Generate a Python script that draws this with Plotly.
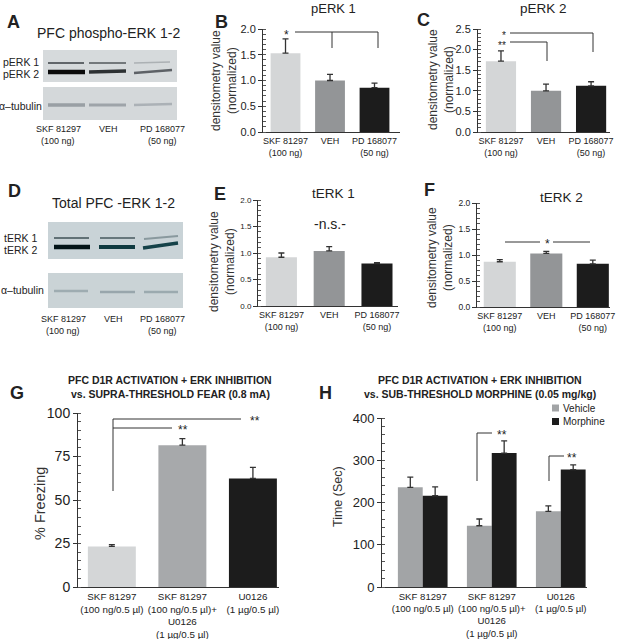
import plotly.graph_objects as go

W, H = 618, 639
FONT = "Liberation Sans, Arial, sans-serif"

# ---------------- data ----------------
lanes3 = ["SKF 81297<br>(100 ng)", "VEH", "PD 168077<br>(50 ng)"]
bar_colors3 = ["#d4d6d7", "#939597", "#1c1c1c"]

perk1_vals = [1.53, 1.00, 0.86]
perk1_err = [0.28, 0.12, 0.09]
perk2_vals = [1.72, 1.00, 1.12]
perk2_err = [0.25, 0.16, 0.10]
terk1_vals = [0.92, 1.04, 0.80]
terk1_err = [0.08, 0.08, 0.02]
terk2_vals = [0.87, 1.03, 0.83]
terk2_err = [0.04, 0.04, 0.07]

fear_labels = ["SKF 81297<br>(100 ng/0.5 µl)",
               "SKF 81297<br>(100 ng/0.5 µl)+<br>U0126<br>(1 µg/0.5 µl)",
               "U0126<br>(1 µg/0.5 µl)"]
fear_colors = ["#d4d6d7", "#a7a9ab", "#1c1c1c"]
fear_vals = [23.3, 81.5, 62.4]
fear_err = [1.0, 3.8, 6.3]

morph_labels = fear_labels
series_names = ["Vehicle", "Morphine"]
series_colors = ["#a2a4a6", "#1c1c1c"]
vehicle_vals = [236, 145, 179]
vehicle_err = [24, 16, 13]
morphine_vals = [216, 317, 278]
morphine_err = [21, 29, 11]


def X(px):
    return px / W


def Y(py):
    return 1 - py / H


fig = go.Figure()
shapes = []
ann = []


def add_axis(n, xd, yd, xr, yr, ytv, ytt, minor_dt, tickfs, xtfs):
    xa = "xaxis" if n == 1 else f"xaxis{n}"
    ya = "yaxis" if n == 1 else f"yaxis{n}"
    fig.layout[xa] = dict(domain=[X(xd[0]), X(xd[1])], range=xr, anchor=f"y{'' if n == 1 else n}",
                          showline=True, linecolor="#333", linewidth=1, ticks="",
                          tickvals=[0, 1, 2], showgrid=False, zeroline=False, automargin=False,
                          tickangle=0, fixedrange=True,
                          tickfont=dict(family=FONT, size=xtfs, color="#222"))
    fig.layout[ya] = dict(domain=[Y(yd[1]), Y(yd[0])], range=yr, anchor=f"x{'' if n == 1 else n}",
                          showline=True, linecolor="#333", linewidth=1, ticks="outside",
                          ticklen=4, tickcolor="#333", tickvals=ytv, ticktext=ytt,
                          minor=dict(ticks="inside", ticklen=2.5, tickcolor="#555", dtick=minor_dt),
                          showgrid=False, zeroline=False, automargin=False, fixedrange=True,
                          tickfont=dict(family=FONT, size=tickfs, color="#222"))


def add_bars(n, labels, vals, errs, colors, width):
    fig.add_trace(go.Bar(
        x=[0, 1, 2], y=vals, width=width, marker=dict(color=colors, line=dict(width=0)),
        error_y=dict(type="data", array=errs, arrayminus=[0, 0, 0], symmetric=False,
                     color="#333", thickness=1.3, width=3),
        xaxis=f"x{'' if n == 1 else n}", yaxis=f"y{'' if n == 1 else n}", showlegend=False,
        hoverinfo="skip"))
    xa = "xaxis" if n == 1 else f"xaxis{n}"
    fig.layout[xa].ticktext = labels


# B
add_axis(1, (263, 400), (29, 132), [-0.506, 2.573], [0, 2.0],
         [0, 0.5, 1, 1.5, 2], ["0.0", "0.5", "1.0", "1.5", "2.0"], 0.1, 11, 9)
add_bars(1, lanes3, perk1_vals, perk1_err, bar_colors3, 0.67)
# C
add_axis(2, (478, 610), (29, 132), [-0.51, 2.42], [0, 2.5],
         [0, 0.5, 1, 1.5, 2, 2.5], ["0.0", "0.5", "1.0", "1.5", "2.0", "2.5"], 0.1, 11, 9)
add_bars(2, lanes3, perk2_vals, perk2_err, bar_colors3, 0.67)
# E
add_axis(3, (258, 398), (200, 306), [-0.49, 2.44], [0, 2.0],
         [0, 0.5, 1, 1.5, 2], ["0.0", "0.5", "1.0", "1.5", "2.0"], 0.1, 8, 9)
add_bars(3, lanes3, terk1_vals, terk1_err, bar_colors3, 0.65)
# F
add_axis(4, (477, 610), (203, 307), [-0.49, 2.37], [0, 2.0],
         [0, 0.5, 1, 1.5, 2], ["0.0", "0.5", "1.0", "1.5", "2.0"], 0.1, 8.5, 9)
add_bars(4, lanes3, terk2_vals, terk2_err, bar_colors3, 0.69)
# G
add_axis(5, (78, 279), (413, 587), [-0.48, 2.37], [0, 100],
         [0, 25, 50, 75, 100], ["0", "25", "50", "75", "100"], 5, 14, 9.8)
add_bars(5, fear_labels, fear_vals, fear_err, fear_colors, 0.68)
# H
add_axis(6, (382, 587), (418, 587), [-0.59, 2.38], [0, 400],
         [0, 100, 200, 300, 400], ["0", "100", "200", "300", "400"], 20, 13, 9.6)
fig.layout.xaxis6.ticktext = morph_labels
for name, vals, errs, col, off in [(series_names[0], vehicle_vals, vehicle_err, series_colors[0], -0.36),
                                   (series_names[1], morphine_vals, morphine_err, series_colors[1], 0)]:
    fig.add_trace(go.Bar(x=[0, 1, 2], y=vals, name=name, width=0.36, offset=off,
                         marker=dict(color=col, line=dict(width=0)),
                         error_y=dict(type="data", array=errs, arrayminus=[0, 0, 0], symmetric=False,
                                      color="#333", thickness=1.3, width=3),
                         xaxis="x6", yaxis="y6", hoverinfo="skip", showlegend=False))


def line(x0, y0, x1, y1, color="#333", w=1):
    shapes.append(dict(type="line", xref="paper", yref="paper", x0=X(x0), y0=Y(y0), x1=X(x1), y1=Y(y1),
                       line=dict(color=color, width=w)))


def rect(x0, y0, x1, y1, fill, layer="below"):
    shapes.append(dict(type="rect", xref="paper", yref="paper", x0=X(x0), y0=Y(y0), x1=X(x1), y1=Y(y1),
                       fillcolor=fill, line=dict(width=0), layer=layer))


def text(x, y, s, size=11, bold=False, xanchor="center", color="#222", yanchor="middle", angle=0):
    ann.append(dict(xref="paper", yref="paper", x=X(x), y=Y(y), text=("<b>%s</b>" % s) if bold else s,
                    showarrow=False, xanchor=xanchor, yanchor=yanchor, borderpad=0, textangle=angle,
                    font=dict(family=FONT, size=size, color=color)))


def band(x0, x1, y0, y1, color, w, op=1.0):
    shapes.append(dict(type="line", xref="paper", yref="paper", x0=X(x0), y0=Y(y0), x1=X(x1), y1=Y(y1),
                       line=dict(color=color, width=w), opacity=op))


# ---------- y-axis titles ----------
dens_title = "densitometry value<br>(normalized)"
text(224, 81, dens_title, size=12, color="#333", angle=-90)
text(441, 80, dens_title, size=12, color="#333", angle=-90)
text(222, 262, dens_title, size=12, color="#333", angle=-90)
text(440, 258, dens_title, size=12, color="#333", angle=-90)
text(40, 504, "% Freezing", size=14.5, color="#333", angle=-90)
text(338, 497, "Time (Sec)", size=12.5, color="#333", angle=-90)

# ---------- Panel letters and titles ----------
for (lx, ly, L) in [(13, 22, "A"), (221, 22, "B"), (423, 20, "C"), (14, 191, "D"), (220, 194, "E"),
                    (430, 190, "F"), (17, 393, "G"), (325, 393, "H")]:
    text(lx, ly, L, size=18, bold=True)

text(108, 33, "PFC phospho-ERK 1-2", size=14)
text(333, 9, "pERK 1", size=13)
text(543, 9, "pERK 2", size=13.5)
text(113, 203, "Total PFC -ERK 1-2", size=14)
text(333, 194, "tERK 1", size=13.5)
text(561, 197, "tERK 2", size=13.5)
text(170, 380, "PFC D1R ACTIVATION + ERK INHIBITION", size=10.5, bold=True)
text(170, 394, "vs. SUPRA-THRESHOLD FEAR (0.8 mA)", size=10.5, bold=True)
text(480, 380, "PFC D1R ACTIVATION + ERK INHIBITION", size=10.5, bold=True)
text(480, 394, "vs. SUB-THRESHOLD MORPHINE (0.05 mg/kg)", size=10.5, bold=True)

# ---------- Blot A ----------
rect(43, 50, 177, 82, "#d6dadc")
rect(43, 87, 177, 120, "#d4d8da")
band(48, 84, 63, 63, "#555a5e", 2.2, 0.9)
band(89, 126, 63, 63, "#62676b", 2.0, 0.85)
band(134, 170, 63, 62, "#a2a7ab", 1.5, 0.8)
band(48, 85, 72, 72, "#0b0b0b", 4.5, 1)
band(89, 126, 72, 71, "#25282a", 3.5, 0.95)
band(134, 172, 73, 70, "#50555a", 2.5, 0.9)
band(48, 85, 105, 105, "#8f969b", 3.5, 0.85)
band(89, 126, 105, 105, "#959ca1", 3.0, 0.85)
band(134, 172, 105, 104, "#a5abb0", 2.5, 0.85)
text(40, 62, "pERK 1", size=10.5, xanchor="right")
text(40, 74, "pERK 2", size=10.5, xanchor="right")
text(43, 106, "α–tubulin", size=10.5, xanchor="right")
text(58, 129, "SKF 81297", size=9)
text(58, 141, "(100 ng)", size=9)
text(108, 129, "VEH", size=9)
text(162, 129, "PD 168077", size=9)
text(162, 141, "(50 ng)", size=9)

# ---------- Blot D ----------
rect(48, 222, 183, 259, "#c9d3d7")
rect(48, 273, 183, 308, "#cad3d6")
band(54, 89, 238, 238, "#4f6066", 2.2, 0.85)
band(100, 135, 238, 238, "#56676d", 2.2, 0.85)
band(144, 178, 239, 236, "#7a8b91", 1.8, 0.8)
band(54, 90, 247, 247, "#031418", 4.5, 1)
band(99, 135, 247, 247, "#0f3a40", 4.0, 1)
band(143, 178, 248, 243, "#154249", 3.5, 1)
band(54, 88, 291, 291, "#9aa8ad", 2.5, 0.9)
band(100, 135, 292, 292, "#93a2a8", 2.5, 0.9)
band(144, 178, 292, 292, "#97a6ab", 2.5, 0.9)
text(38, 238, "tERK 1", size=10.5, xanchor="right")
text(38, 250, "tERK 2", size=10.5, xanchor="right")
text(45, 290, "α–tubulin", size=10.5, xanchor="right")
text(63, 319, "SKF 81297", size=9)
text(63, 331, "(100 ng)", size=9)
text(113, 319, "VEH", size=9)
text(163, 319, "PD 168077", size=9)
text(163, 331, "(50 ng)", size=9)

# ---------- significance markers ----------
# B
line(295, 32, 378, 32)
line(332, 32, 332, 48)
line(378, 32, 378, 48)
text(286, 35, "*", size=12)
# C
line(510, 33, 593, 33)
line(593, 33, 593, 52)
line(510, 42, 547, 42)
line(547, 42, 547, 61)
text(507, 35, "*", size=10, xanchor="right")
text(507, 45, "**", size=10, xanchor="right")
# E
text(330, 224, "-n.s.-", size=14)
# F
line(505, 242, 540, 242)
line(553, 242, 590, 242)
text(547, 244, "*", size=12)
# G
line(113, 419, 241, 419)
line(113, 428, 172, 428)
line(113, 419, 113, 491)
text(255, 421, "**", size=12)
text(183, 430, "**", size=12)
# H
line(477, 481, 477, 433)
line(477, 433, 492, 433)
text(502, 435, "**", size=12)
line(549, 481, 549, 456)
line(549, 456, 564, 456)
text(572, 458, "**", size=12)

# ---------- H legend ----------
for i, (nm, col) in enumerate(zip(series_names, series_colors)):
    yy = 408 + 13.5 * i
    rect(552, yy - 3.5, 559, yy + 3.5, col, layer="above")
    text(562, yy, nm, size=10, xanchor="left")

fig.update_layout(
    width=W, height=H, margin=dict(l=0, r=0, t=0, b=0, autoexpand=False),
    paper_bgcolor="white", plot_bgcolor="white",
    shapes=shapes, annotations=ann, barmode="overlay", showlegend=False,
    font=dict(family=FONT),
)
fig.write_html("out.html", config={"displayModeBar": False, "staticPlot": True},
               post_script="document.body.style.margin='0px';document.body.style.overflow='hidden';")
